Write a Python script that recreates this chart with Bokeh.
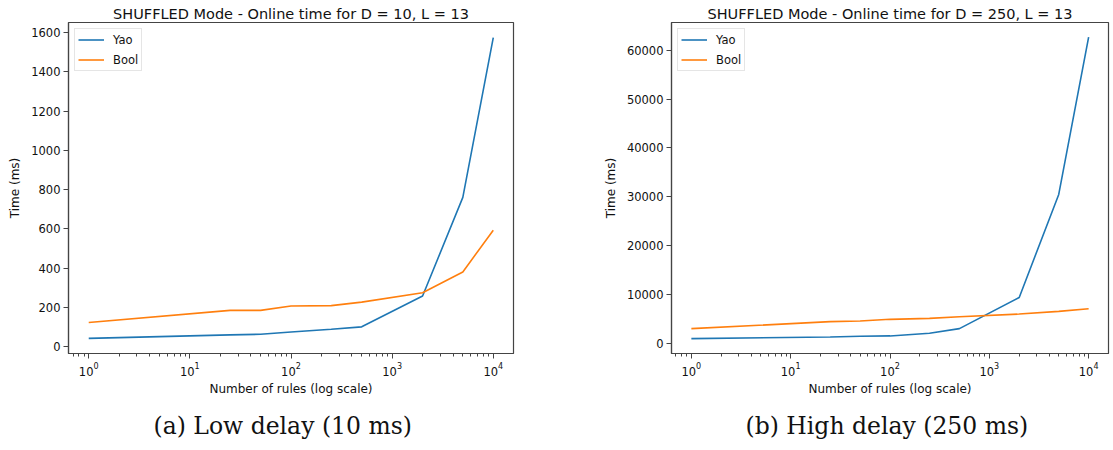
from bokeh.plotting import figure
from bokeh.layouts import row
from bokeh.models import Range1d, FixedTicker, LogTickFormatter, Title, Legend, LegendItem
from bokeh.embed import file_html
from bokeh.resources import INLINE

# Number of rules (log scale) evaluated in each run
rules = [1, 25, 50, 100, 250, 500, 2000, 5000, 10000]

# Online time in ms, low delay (D = 10)
yao_low = [41, 59, 62, 74, 88, 100, 257, 760, 1575]
bool_low = [122, 184, 184, 206, 208, 226, 274, 380, 593]

# Online time in ms, high delay (D = 250)
yao_high = [950, 1290, 1430, 1500, 2040, 2990, 9380, 30480, 62700]
bool_high = [2990, 4420, 4560, 4900, 5100, 5440, 5980, 6530, 7070]

titles = ["SHUFFLED Mode - Online time for D = 10, L = 13",
          "SHUFFLED Mode - Online time for D = 250, L = 13"]
captions = ["(a) Low delay (10 ms)", "(b) High delay (250 ms)"]
y_ticks_low = [0, 200, 400, 600, 800, 1000, 1200, 1400, 1600]
y_ticks_high = [0, 10000, 20000, 30000, 40000, 50000, 60000]

BLUE = "#1f77b4"
ORANGE = "#ff7f0e"
SPINE = "#444444"
FONT = "DejaVu Sans"

major = [1, 10, 100, 1000, 10000]
minor = [m * d for d in [0.1, 1, 10, 100, 1000, 10000] for m in range(2, 10)]


def make_panel(title, caption, yao, boolean, yticks, yrange, width, border_left,
               border_right, cap_offset):
    p = figure(width=width, height=450, x_axis_type="log",
               x_range=Range1d(10 ** -0.2, 10 ** 4.2), y_range=Range1d(*yrange),
               output_backend="svg", toolbar_location=None,
               min_border_left=border_left, min_border_right=border_right,
               min_border_top=22, min_border_bottom=96)
    p.title.text = title
    p.title.text_font = FONT
    p.title.text_font_size = "14.5px"
    p.title.text_font_style = "normal"
    p.title.align = "center"
    p.title.standoff = 2
    p.title.text_color = "#111111"

    p.xgrid.visible = False
    p.ygrid.visible = False
    p.outline_line_color = SPINE
    p.outline_line_width = 1.2
    p.outline_line_alpha = 1.0

    p.xaxis.ticker = FixedTicker(ticks=major, minor_ticks=minor)
    p.xaxis.formatter = LogTickFormatter(min_exponent=0)
    p.yaxis.ticker = FixedTicker(ticks=yticks)
    p.xaxis.axis_label = "Number of rules (log scale)"
    p.yaxis.axis_label = "Time (ms)"

    for ax in (p.xaxis[0], p.yaxis[0]):
        ax.axis_line_color = SPINE
        ax.axis_line_width = 1.2
        ax.major_tick_line_color = SPINE
        ax.minor_tick_line_color = SPINE
        ax.major_tick_out = 5
        ax.major_tick_in = 0
        ax.minor_tick_out = 3
        ax.minor_tick_in = 0
        ax.major_label_text_font = FONT
        ax.major_label_text_font_size = "11.5px"
        ax.major_label_text_color = "#111111"
        ax.axis_label_text_font = FONT
        ax.axis_label_text_font_size = "12px"
        ax.axis_label_text_font_style = "normal"
        ax.axis_label_text_color = "#111111"
    p.yaxis.minor_tick_line_color = None
    p.yaxis.major_label_standoff = 3
    p.yaxis.axis_label_standoff = 6
    p.xaxis.major_label_standoff = 3
    p.xaxis.axis_label_standoff = 3

    r_yao = p.line(rules, yao, line_color=BLUE, line_width=1.6)
    r_bool = p.line(rules, boolean, line_color=ORANGE, line_width=1.6)

    legend = Legend(items=[LegendItem(label="Yao", renderers=[r_yao]),
                           LegendItem(label="Bool", renderers=[r_bool])],
                    location="top_left", margin=6, padding=3, spacing=5,
                    glyph_width=26, glyph_height=15, label_height=15,
                    label_standoff=9, label_text_font=FONT,
                    label_text_font_size="11.5px", label_text_color="#111111",
                    border_line_color="#cccccc", border_line_width=1,
                    background_fill_alpha=0.9)
    p.add_layout(legend, "center")

    # sub-figure caption set below the x axis
    cap = Title(text=caption, align="left", offset=cap_offset,
                text_font="DejaVu Serif", text_font_size="23.5px",
                text_font_style="normal", text_color="#111111", standoff=22)
    p.add_layout(cap, "below")
    return p


left = make_panel(titles[0], captions[0], yao_low, bool_low, y_ticks_low,
                  (-36, 1652), 580, 68, 67, 85)
right = make_panel(titles[1], captions[1], yao_high, bool_high, y_ticks_high,
                   (-2100, 65700), 533, 91, 5, 74)

layout = row(left, right, spacing=0)
open("out.html", "w").write(file_html(layout, INLINE))
